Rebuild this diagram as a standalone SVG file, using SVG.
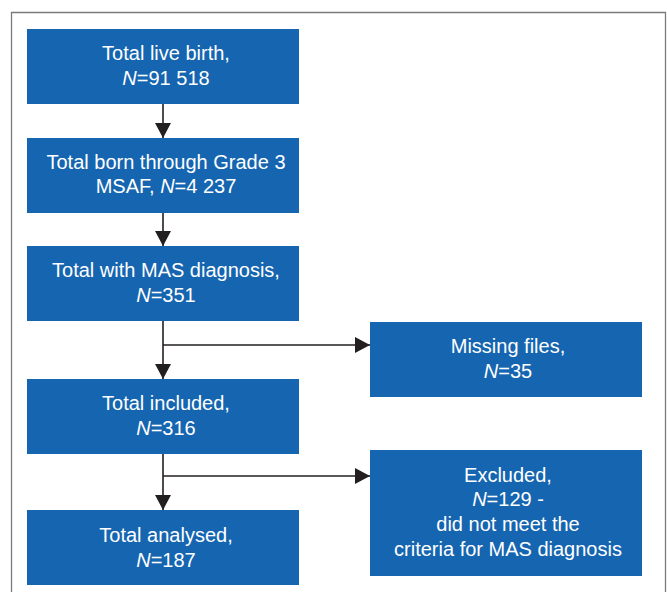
<svg xmlns="http://www.w3.org/2000/svg" width="667" height="592" viewBox="0 0 667 592">
<defs>
<style>
.box{fill:#1565b0}
.t{font-family:"Liberation Sans",Arial,sans-serif;font-size:20px;fill:#ffffff;text-anchor:middle}
.i{font-style:italic}
.c{stroke:#231f20;stroke-width:1.6;fill:none}
</style>
<marker id="ah" markerWidth="16" markerHeight="16" viewBox="0 0 16 16" refX="15" refY="8" orient="auto" markerUnits="userSpaceOnUse">
<path d="M0,0 L15,8 L0,16 Z" fill="#231f20"/>
</marker>
</defs>
<rect x="0" y="0" width="667" height="592" fill="#ffffff"/>
<path d="M11.5,600 V12.5 H665.5 V600" fill="none" stroke="#7a7a7a" stroke-width="1.3"/>
<g id="connectors">
<line class="c" x1="163" y1="104" x2="163" y2="138" marker-end="url(#ah)"/>
<line class="c" x1="163" y1="213" x2="163" y2="246" marker-end="url(#ah)"/>
<line class="c" x1="163" y1="321" x2="163" y2="379" marker-end="url(#ah)"/>
<line class="c" x1="163" y1="345" x2="370" y2="345" marker-end="url(#ah)"/>
<line class="c" x1="163" y1="454" x2="163" y2="510" marker-end="url(#ah)"/>
<line class="c" x1="163" y1="476" x2="370" y2="476" marker-end="url(#ah)"/>
</g>
<g id="live-birth">
<rect class="box" x="27" y="29" width="272" height="75"/>
<text class="t" x="166" y="60">Total live birth,</text>
<text class="t" x="166" y="85"><tspan class="i">N</tspan>=91 518</text>
</g>
<g id="grade3">
<rect class="box" x="27" y="138" width="272" height="75"/>
<text class="t" x="166" y="169">Total born through Grade 3</text>
<text class="t" x="166" y="193">MSAF, <tspan class="i">N</tspan>=4 237</text>
</g>
<g id="mas">
<rect class="box" x="27" y="246" width="272" height="75"/>
<text class="t" x="166" y="277">Total with MAS diagnosis,</text>
<text class="t" x="166" y="302"><tspan class="i">N</tspan>=351</text>
</g>
<g id="missing">
<rect class="box" x="370" y="322" width="272" height="75"/>
<text class="t" x="508" y="353">Missing files,</text>
<text class="t" x="508" y="378"><tspan class="i">N</tspan>=35</text>
</g>
<g id="included">
<rect class="box" x="27" y="379" width="272" height="75"/>
<text class="t" x="166" y="410">Total included,</text>
<text class="t" x="166" y="435"><tspan class="i">N</tspan>=316</text>
</g>
<g id="excluded">
<rect class="box" x="370" y="450" width="272" height="126"/>
<text class="t" x="508" y="482">Excluded,</text>
<text class="t" x="508" y="506"><tspan class="i">N</tspan>=129 -</text>
<text class="t" x="508" y="531">did not meet the</text>
<text class="t" x="508" y="556">criteria for MAS diagnosis</text>
</g>
<g id="analysed">
<rect class="box" x="27" y="510" width="272" height="75"/>
<text class="t" x="166" y="542">Total analysed,</text>
<text class="t" x="166" y="567"><tspan class="i">N</tspan>=187</text>
</g>
</svg>
